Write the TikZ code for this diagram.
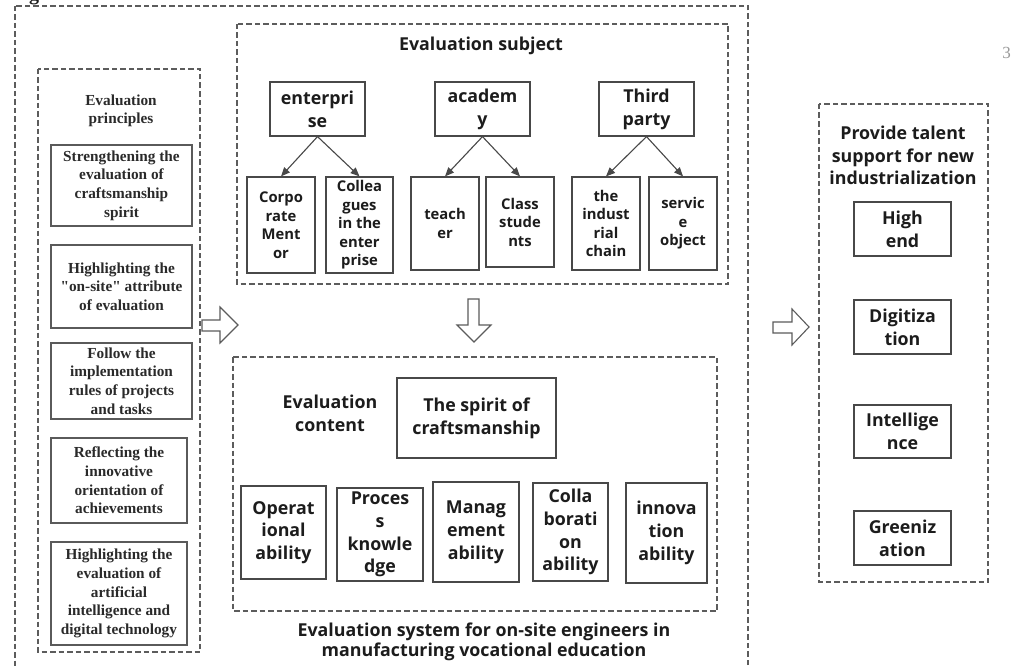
\documentclass[tikz,border=0pt]{standalone}
\usepackage{fontspec}
\setmainfont{Liberation Serif}[Ligatures=TeXOff]
\newfontfamily\osans{Open Sans}
\usetikzlibrary{arrows.meta}
\definecolor{lc}{HTML}{484848}
\definecolor{dc}{HTML}{5C5C5C}
\definecolor{tc}{HTML}{1C1C1C}
\definecolor{st}{HTML}{2A2A2A}
\newcommand\myser{\fontsize{15.3}{18.6}\selectfont\bfseries}
\newcommand\mybig{\osans\bfseries\fontsize{17.8}{22.8}\selectfont}
\newcommand\mysmall{\osans\bfseries\fontsize{14.8}{18.5}\selectfont}
\tikzset{
 dbox/.style={draw=dc, line width=1.1pt, dash pattern=on 5.5pt off 3pt},
 sbox/.style={draw=lc, line width=1.2pt, inner sep=0pt, align=center, text=tc},
 pbox/.style={sbox, draw=lc!90, line width=1.4pt, font=\myser, text=st},
 bigbox/.style={sbox, font=\mybig},
 smallbox/.style={sbox, font=\mysmall},
 lbl/.style={inner sep=0pt, align=center, text=tc},
 conn/.style={draw=lc, line width=1.1pt, -{Triangle[length=9pt,width=7.5pt]}},
 blk/.style={draw=dc, line width=1.1pt, fill=white, line join=miter}
}
\begin{document}
\begin{tikzpicture}[x=1pt,y=-1pt]
\useasboundingbox (0,0) rectangle (1024,666);
\fill[white] (0,0) rectangle (1024,666);
% fragments at the page edges
\node[lbl, anchor=base, font=\fontsize{20}{20}\selectfont\bfseries] (frag) at (34,1) {g};
\node[lbl, text=gray!80, font=\fontsize{17}{17}\selectfont] (pnum) at (1006.5,53) {3};

% containers
\draw[dbox] (15,6) rectangle (748,700);
\draw[dbox] (38,69) rectangle (200,652);
\draw[dbox] (237,24) rectangle (728,284);
\draw[dbox] (233,357) rectangle (717,611);
\draw[dbox] (819,104) rectangle (988,582);

% principles
\node[lbl, font=\myser, text=st] (ptitle) at (121,111) {Evaluation\\principles};
\node[pbox, minimum width=141pt, minimum height=81pt] (p1) at (121.5,185.5) {Strengthening the\\evaluation of\\craftsmanship\\spirit};
\node[pbox, minimum width=141pt, minimum height=83pt] (p2) at (121.5,286.5) {Highlighting the\\"on-site" attribute\\of evaluation};
\node[pbox, minimum width=141pt, minimum height=76pt] (p3) at (121.5,381) {Follow the\\implementation\\rules of projects\\and tasks};
\node[pbox, minimum width=136pt, minimum height=85pt] (p4) at (119,480.5) {Reflecting the\\innovative\\orientation of\\achievements};
\node[pbox, minimum width=136pt, minimum height=103pt] (p5) at (119,593.5) {Highlighting the\\evaluation of\\artificial\\intelligence and\\digital technology};

% evaluation subject
\node[lbl, font=\mybig] (stitle) at (481,46) {Evaluation subject};
\node[bigbox, minimum width=95pt, minimum height=54pt] (ent) at (317.5,109) {enterpri\\se};
\node[bigbox, minimum width=95pt, minimum height=54pt] (aca) at (482.5,109) {academ\\y};
\node[bigbox, minimum width=95pt, minimum height=54pt] (thp) at (646.5,109) {Third\\party};
\node[smallbox, minimum width=68pt, minimum height=96pt] (c1) at (281,225) {Corpo\\rate\\Ment\\or};
\node[smallbox, minimum width=67pt, minimum height=96pt] (c2) at (359.5,225) {Collea\\gues\\in the\\enter\\prise};
\node[smallbox, minimum width=68pt, minimum height=93pt] (c3) at (445,223.5) {teach\\er};
\node[smallbox, minimum width=68pt, minimum height=90pt] (c4) at (520,222) {Class\\stude\\nts};
\node[smallbox, minimum width=68pt, minimum height=93pt] (c5) at (606,223.5) {the\\indust\\rial\\chain};
\node[smallbox, minimum width=68pt, minimum height=93pt] (c6) at (683,223.5) {servic\\e\\object};
\draw[conn] (ent.south) -- (c1.north);
\draw[conn] (ent.south) -- (c2.north);
\draw[conn] (aca.south) -- (c3.north);
\draw[conn] (aca.south) -- (c4.north);
\draw[conn] (thp.south) -- (c5.north);
\draw[conn] (thp.south) -- (c6.north);

% evaluation content
\node[lbl, font=\mybig] (ctitle) at (330,413.5) {Evaluation\\content};
\node[bigbox, minimum width=159pt, minimum height=80pt] (spirit) at (476.5,418) {The spirit of\\craftsmanship};
\node[bigbox, minimum width=85pt, minimum height=93pt] (b1) at (283.5,532.5) {Operat\\ional\\ability};
\node[bigbox, minimum width=86pt, minimum height=93pt] (b2) at (380,534.5) {Proces\\s\\knowle\\dge};
\node[bigbox, minimum width=86pt, minimum height=100pt] (b3) at (476,532) {Manag\\ement\\ability};
\node[bigbox, minimum width=75pt, minimum height=98pt] (b4) at (570.5,532) {Colla\\borati\\on\\ability};
\node[bigbox, minimum width=81pt, minimum height=100pt] (b5) at (666.5,533) {innova\\tion\\ability};
\node[lbl, font=\osans\bfseries\fontsize{17.8}{20.5}\selectfont] (caption) at (484,642) {Evaluation system for on-site engineers in\\manufacturing vocational education};

% right column
\node[lbl, font=\mybig] (rtitle) at (903,155.5) {Provide talent\\support for new\\industrialization};
\node[bigbox, minimum width=97pt, minimum height=54pt] (r1) at (902.5,229) {High\\end};
\node[bigbox, minimum width=97pt, minimum height=54pt] (r2) at (902.5,327) {Digitiza\\tion};
\node[bigbox, minimum width=97pt, minimum height=53pt] (r3) at (902.5,431.5) {Intellige\\nce};
\node[bigbox, minimum width=97pt, minimum height=54pt] (r4) at (902.5,538) {Greeniz\\ation};

% block arrows
\draw[blk] (202,320) -- (220,320) -- (220,307) -- (238,325) -- (220,343) -- (220,331) -- (202,331) -- cycle;
\draw[blk] (468,299) -- (479,299) -- (479,325) -- (491,325) -- (474,342) -- (457,325) -- (468,325) -- cycle;
\draw[blk] (773,322) -- (792,322) -- (792,309) -- (809,327) -- (792,345) -- (792,333) -- (773,333) -- cycle;
\end{tikzpicture}
\end{document}
